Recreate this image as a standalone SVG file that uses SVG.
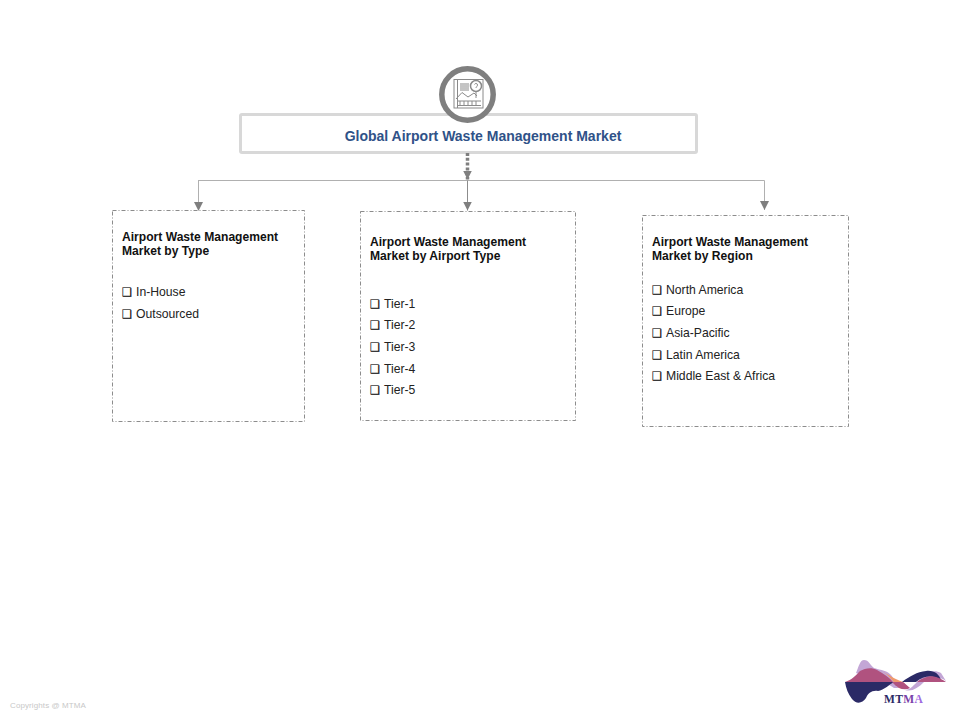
<svg xmlns="http://www.w3.org/2000/svg" width="960" height="720" viewBox="0 0 960 720">
<style>
text{font-family:"Liberation Sans",Arial,sans-serif}
.box{fill:#fff;stroke:#7f7f7f;stroke-width:.9;stroke-dasharray:4 2 1 2}
.h{font-size:12.1px;font-weight:bold;fill:#111}
.i{font-size:12.2px;fill:#222}
text.b{font-family:"DejaVu Sans",sans-serif;font-size:11.500px;fill:#111;stroke:#111;stroke-width:.2}
.c{fill:none;stroke:#b0b0b0;stroke-width:1}
.ic{fill:none;stroke:#8a8a8a;stroke-width:1}
text.logo{font-family:"Liberation Serif",serif;font-size:11.500px;font-weight:bold;fill:#2b2a66;letter-spacing:.4px}
</style>
<defs><marker id="a" markerUnits="userSpaceOnUse" markerWidth="10" markerHeight="9" refX="9" refY="4.500" orient="auto"><path d="M0 0L9 4.500L0 9Z" fill="#7f7f7f"/></marker></defs>
<rect width="960" height="720" fill="#fff"/>
<g id="root">
<rect x="240.500" y="114.500" width="456" height="38" rx="1.500" fill="#fff" stroke="#d8d8d8" stroke-width="3"/>
<text x="483" y="141" text-anchor="middle" font-size="14" font-weight="bold" fill="#2f5288">Global Airport Waste Management Market</text>
</g>
<g id="connectors">
<path class="c" d="M198 180.500H764.500"/>
<path class="c" d="M198.500 180.500V211" marker-end="url(#a)"/>
<path class="c" d="M467.500 180.500V210.500" marker-end="url(#a)" style="stroke:#8c8c8c"/>
<path class="c" d="M764.500 180.500V210" marker-end="url(#a)"/>
<path d="M467.500 153V179.500" fill="none" stroke="#7f7f7f" stroke-width="3.500" stroke-dasharray="3 1.800" marker-end="url(#a)"/>
</g>
<g id="icon">
<circle cx="467.500" cy="94.500" r="25.700" fill="#fff" stroke="#7f7f7f" stroke-width="5.500"/>
<rect x="454" y="79.500" width="29" height="28.500" class="ic"/>
<path class="ic" d="M457.500 80V108M460 84H469M460 86H469M460 88H469M460 90H469M456 99L462 92.500L468 97L474 93L477 96M457 101H481M457 105.500H481M460 101V105M464 101V105M468 101V105M472 101V105M476 101V105" stroke-width="1.100"/>
<circle cx="476" cy="86" r="5.500" fill="#fff" stroke="#8a8a8a" stroke-width="1.500"/>
<path class="ic" d="M476 91.500V98" stroke-width="2.200"/>
<path class="ic" d="M474.500 84.500C475 83 477.500 83 477.500 85C477.500 86.500 476 86.500 476 88"/>
</g>
<g id="type">
<rect class="box" x="112.500" y="210.500" width="192" height="211"/>
<text class="h" x="122" y="241">Airport Waste Management</text>
<text class="h" x="122" y="255">Market by Type</text>
<text class="b" x="122" y="296">❑</text><text class="i" x="136" y="296">In-House</text>
<text class="b" x="122" y="318">❑</text><text class="i" x="136" y="318">Outsourced</text>
</g>
<g id="airport">
<rect class="box" x="360.500" y="211.500" width="215" height="209"/>
<text class="h" x="370" y="246">Airport Waste Management</text>
<text class="h" x="370" y="260">Market by Airport Type</text>
<text class="b" x="370" y="308">❑</text><text class="i" x="384" y="308">Tier-1</text>
<text class="b" x="370" y="329">❑</text><text class="i" x="384" y="329">Tier-2</text>
<text class="b" x="370" y="351">❑</text><text class="i" x="384" y="351">Tier-3</text>
<text class="b" x="370" y="373">❑</text><text class="i" x="384" y="373">Tier-4</text>
<text class="b" x="370" y="394">❑</text><text class="i" x="384" y="394">Tier-5</text>
</g>
<g id="region">
<rect class="box" x="642.500" y="215.500" width="206" height="211"/>
<text class="h" x="652" y="246">Airport Waste Management</text>
<text class="h" x="652" y="260">Market by Region</text>
<text class="b" x="652" y="294">❑</text><text class="i" x="666" y="294">North America</text>
<text class="b" x="652" y="315">❑</text><text class="i" x="666" y="315">Europe</text>
<text class="b" x="652" y="337">❑</text><text class="i" x="666" y="337">Asia-Pacific</text>
<text class="b" x="652" y="359">❑</text><text class="i" x="666" y="359">Latin America</text>
<text class="b" x="652" y="380">❑</text><text class="i" x="666" y="380">Middle East &amp; Africa</text>
</g>
<text x="10" y="708" font-size="8" fill="#c8c8c8" letter-spacing=".1">Copyrights  @ MTMA</text>
<g id="logo">
<path d="M856 673C859 666 860 660 864 660C869 660 870 665 874 668C881 670 888 671 891 675C895 680 896 685 901 688L894 688C886 682 868 678 856 673Z" fill="#c3a6d6"/>
<path d="M845 682C852 680 856 675 860 671C865 668 872 667 877 670C884 674 890 678 893 682Z" fill="#b0527f"/>
<path d="M881 671C888 674 892 680 897 686C900 690 904 689 908 687L903 682C896 680 888 674 881 671Z" fill="#f0996b"/>
<path d="M845 682H894C890 684 884 690 878 691C872 690 868 693 866 698C862 704 856 704 852 699C848 694 846 688 845 682Z" fill="#2b2a66"/>
<path d="M892 682L903 682L910 688C905 691 898 689 892 682Z" fill="#b0527f"/>
<path d="M905 690C910 690 914 685 919 680C926 672 934 669 941 673L946 681C940 676 930 677 924 682C918 688 912 692 905 690Z" fill="#c3a6d6"/>
<path d="M902 682C910 676 917 672 926 671C934 670 939 674 941 680C934 675 924 675 916 682Z" fill="#2b2a66"/>
<path d="M917 682C922 678 930 675 936 677C940 678 943 680 946 682Z" fill="#b0527f"/>
<text class="logo" x="884" y="703">MT<tspan fill="#7a3fa8">M</tspan><tspan fill="#a06ae0">A</tspan></text>
</g>
</svg>
